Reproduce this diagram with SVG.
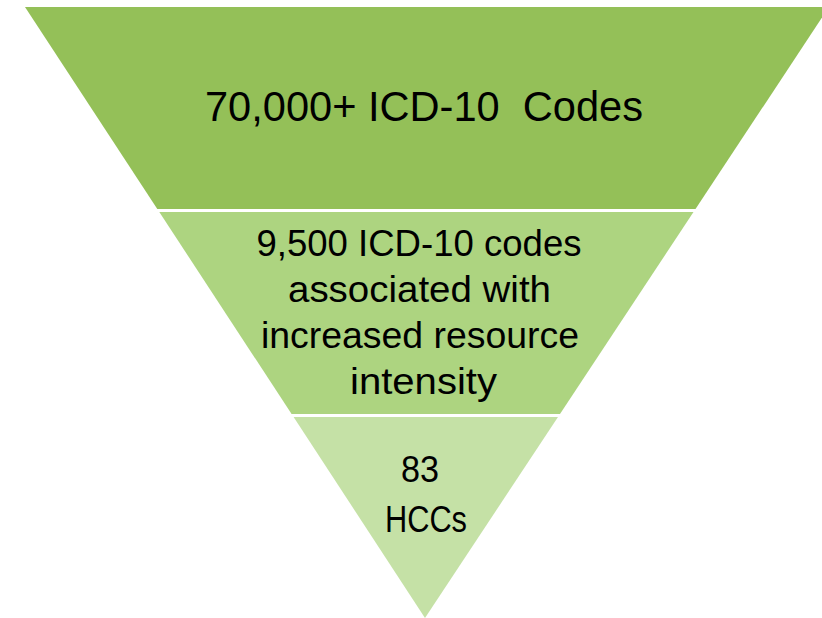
<svg xmlns="http://www.w3.org/2000/svg" width="822" height="618" viewBox="0 0 822 618">
  <style>
    .label { font-family: "Liberation Sans", Arial, sans-serif; fill: #000; text-anchor: middle; }
    .tier1 { fill: #94C058; }
    .tier2 { fill: #ADD480; }
    .tier3 { fill: #C5E1A6; }
  </style>
  <rect width="822" height="618" fill="#ffffff"/>

  <!-- Top tier of the funnel -->
  <g id="tier-icd10-all">
    <polygon class="tier1" points="25,7 829,7 695.5,209 157.3,209"/>
    <text class="label" x="424" y="120.5" font-size="42" textLength="438" lengthAdjust="spacingAndGlyphs">70,000+ ICD-10 &#160;Codes</text>
  </g>

  <!-- Middle tier -->
  <g id="tier-icd10-resource">
    <polygon class="tier2" points="159.3,212 693.5,212 560,414 291.6,414"/>
    <text class="label" font-size="36">
      <tspan x="424" y="256" textLength="325" lengthAdjust="spacingAndGlyphs">9,500 ICD-10 codes</tspan>
      <tspan x="424.5" y="301.5" textLength="263" lengthAdjust="spacingAndGlyphs">associated with</tspan>
      <tspan x="425" y="348" textLength="318" lengthAdjust="spacingAndGlyphs">increased resource</tspan>
      <tspan x="423.5" y="394" textLength="147" lengthAdjust="spacingAndGlyphs">intensity</tspan>
    </text>
  </g>

  <!-- Bottom tier -->
  <g id="tier-hcc">
    <polygon class="tier3" points="293.6,417 558,417 425,618"/>
    <text class="label" font-size="36">
      <tspan x="425" y="482" textLength="38" lengthAdjust="spacingAndGlyphs">83</tspan>
      <tspan x="426" y="532" textLength="82" lengthAdjust="spacingAndGlyphs">HCCs</tspan>
    </text>
  </g>

  <g id="connectors"></g>
</svg>
